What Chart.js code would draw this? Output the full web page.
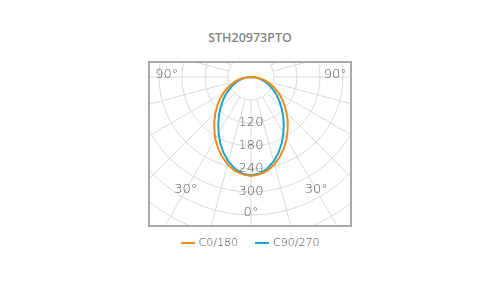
<!DOCTYPE html>
<html>
<head>
<meta charset="utf-8">
<script src="https://cdn.jsdelivr.net/npm/chart.js@4.4.1/dist/chart.umd.min.js"></script>
<style>
  body {
    margin: 0;
    width: 500px;
    height: 300px;
    background: #fff;
    position: relative;
    overflow: hidden;
    font-family: "DejaVu Sans", sans-serif;
  }
  #title {
    position: absolute;
    left: 0;
    top: 29px;
    width: 500px;
    text-align: center;
    font-family: "Open Sans", sans-serif;
    font-size: 12.5px;
    font-weight: 600;
    color: #858585;
  }
  #frame {
    position: absolute;
    left: 148px;
    top: 61px;
    width: 200px;
    height: 162px;
    border: 2px solid #aaa;
    overflow: hidden;
  }
  #frame canvas {
    position: absolute;
    left: -83px;
    top: -170px;
  }
  #legend {
    position: absolute;
    left: 0;
    top: 236px;
    width: 500px;
    display: flex;
    justify-content: center;
    gap: 17px;
    font-size: 11px;
    font-weight: 200;
    color: #444;
  }
  .item { display: flex; align-items: center; }
  .swatch { width: 14px; height: 2px; margin-right: 4px; }
</style>
</head>
<body>
<div id="title"></div>
<div id="frame"><canvas id="polar" width="368" height="368"></canvas></div>
<div id="legend"></div>

<script>
// Luminaire name
const luminaire = "STH20973PTO";

// Gamma angles (degrees from nadir) and intensities (cd) for each C plane
const angles = [0, 5, 10, 15, 20, 25, 30, 35, 40, 45, 50, 55, 60, 65, 70, 75, 80, 85, 90];
const c0 = [258, 255, 248, 236, 221, 204, 186, 167, 149, 131, 114, 98, 83, 68, 54, 40, 27, 13, 0];
const c90 = [256, 253, 243, 228, 210, 190, 169, 149, 130, 112, 96, 81, 67, 54, 42, 31, 20, 10, 0];

const seriesNames = ["C0/180", "C90/270"];
const seriesColors = ["#f28a1d", "#1aa6c9"];

// Ring and angle labels
const ringLabels = [120, 180, 240, 300];
const angleLabels = [
  { text: "0°", angle: 0, r: 355 },
  { text: "30°", angle: 30, r: 340 },
  { text: "30°", angle: 330, r: 340 },
  { text: "90°", angle: 90, r: 220 },
  { text: "90°", angle: 270, r: 220 },
];

const step = angles[1] - angles[0];
const rMax = 480;
const ringStep = 60;
const spokeStep = 15;

// Full circle labels, going round from the nadir
let fullAngles = [];
for (let a = 0; a < 360; a += step) fullAngles.push(a);

// Mirror the half plane onto both sides, nothing above the horizon
function fullCircle(values) {
  return fullAngles.map((a) => {
    if (a <= 90) return values[angles.indexOf(a)];
    if (a >= 270) return values[angles.indexOf(360 - a)];
    return 0;
  });
}

document.getElementById("title").textContent = luminaire;

// Spokes from the first ring outwards, and the texts on top
const polarDecor = {
  id: "polarDecor",
  beforeDatasetsDraw(chart) {
    const scale = chart.scales.r;
    const ctx = chart.ctx;
    ctx.save();
    ctx.strokeStyle = "#d9d9d9";
    ctx.lineWidth = 1;
    for (let a = 0; a < 360; a += spokeStep) {
      const i = a / step;
      const p1 = scale.getPointPositionForValue(i, ringStep);
      const p2 = scale.getPointPositionForValue(i, rMax);
      ctx.beginPath();
      ctx.moveTo(p1.x, p1.y);
      ctx.lineTo(p2.x, p2.y);
      ctx.stroke();
    }
    ctx.restore();
  },
  afterDatasetsDraw(chart) {
    const scale = chart.scales.r;
    const ctx = chart.ctx;
    ctx.save();
    ctx.fillStyle = "#555";
    ctx.font = "200 13px 'DejaVu Sans'";
    ctx.textAlign = "center";
    ctx.textBaseline = "middle";
    ringLabels.forEach((v) => {
      const p = scale.getPointPositionForValue(0, v);
      ctx.fillText(String(v), p.x, p.y);
    });
    angleLabels.forEach((l) => {
      const p = scale.getPointPositionForValue(l.angle / step, l.r);
      ctx.fillText(l.text, p.x, l.angle % 180 === 90 ? p.y - 2 : p.y);
    });
    ctx.restore();
  },
};

new Chart(document.getElementById("polar"), {
  type: "radar",
  data: {
    labels: fullAngles,
    datasets: [
      { label: seriesNames[0], data: fullCircle(c0), borderColor: seriesColors[0] },
      { label: seriesNames[1], data: fullCircle(c90), borderColor: seriesColors[1] },
    ],
  },
  options: {
    responsive: false,
    animation: false,
    elements: {
      line: { borderWidth: 2, fill: false, tension: 0 },
      point: { radius: 0, hoverRadius: 0 },
    },
    plugins: { legend: { display: false }, tooltip: { enabled: false } },
    scales: {
      r: {
        min: 0,
        max: rMax,
        startAngle: 180,
        ticks: { display: false, stepSize: ringStep },
        grid: { circular: true, color: "#d9d9d9", lineWidth: 1 },
        angleLines: { display: false },
        pointLabels: { display: false },
      },
    },
  },
  plugins: [polarDecor],
});

// Legend
const legend = document.getElementById("legend");
seriesNames.forEach((name, i) => {
  legend.innerHTML += `
    <div class="item">
      <span class="swatch" style="background:${seriesColors[i]}"></span>
      <span>${name}</span>
    </div>`;
});
</script>
</body>
</html>
